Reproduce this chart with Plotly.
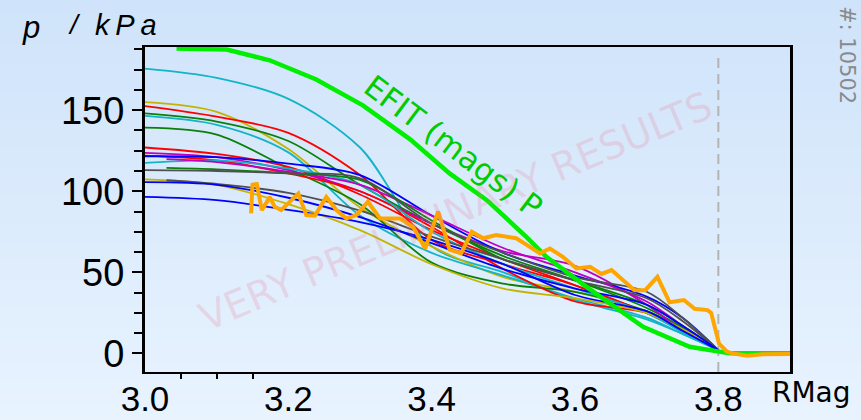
import plotly.graph_objects as go

# ---------------------------------------------------------------- data
# common radial grid (m) for the reconstructed pressure profiles
R_GRID = [3.0, 3.1, 3.2, 3.3, 3.4, 3.5, 3.6, 3.7, 3.75, 3.8]
R_GRID_LATE = [3.03, 3.1, 3.2, 3.3, 3.4, 3.5, 3.6, 3.7, 3.75, 3.8]

# pressure profiles (kPa) for the individual time slices
p_cyan_a = [175.7, 170, 157, 127, 66, 50, 33, 21, 12, 2]
p_yell_a = [155, 149, 126, 90, 66, 47, 38, 26, 15, 2]
p_red_a = [152.5, 146, 136, 110, 70, 55, 42, 25, 14, 2]
p_gree_a = [148, 143, 131, 104, 80, 60, 45, 28, 16, 2]
p_cyan_b = [146.5, 141, 124, 85, 62, 48, 34, 22, 12, 2]
p_gree_b = [139.3, 135, 114, 92, 56, 43, 38, 26, 15, 2]
p_red_b = [127, 123, 115, 98, 76, 58, 42, 25, 14, 2]
p_mage_a = [123.7, 121, 113, 100, 80, 63, 54, 30, 14, 2]
p_red_c = [122, 119, 111, 100, 78, 52, 32, 25, 14, 2]
p_blue_a = [121.6, 121, 117, 110, 85, 62, 48, 35, 22, 2]
p_cyan_c = [117.5, 119, 114, 104, 75, 55, 40, 25, 13, 2]
p_mage_b = [119.8, 118, 112, 104, 85, 65, 50, 32, 17, 2]      # late start
p_gree_c = [114.4, 113.5, 111, 107, 82, 58, 45, 30, 17, 2]    # late start
p_gray_a = [113, 112.5, 111, 108, 80, 62, 47, 38, 22, 2]
p_yell_b = [107.3, 104, 92, 76, 55, 40, 34, 25, 15, 2]
p_gray_b = [106.8, 104.5, 99, 88, 72, 58, 45, 34, 20, 2]      # late start
p_blue_b = [105.6, 104, 96, 84, 68, 52, 40, 30, 17, 2]
p_blue_c = [96.5, 94.5, 88.5, 81, 70, 55, 36, 26, 14, 2]

PROFILES = [
    ("#13b4c6", R_GRID, p_cyan_a),
    ("#c4b400", R_GRID, p_yell_a),
    ("#ff0000", R_GRID, p_red_a),
    ("#0a800a", R_GRID, p_gree_a),
    ("#13b4c6", R_GRID, p_cyan_b),
    ("#0a800a", R_GRID, p_gree_b),
    ("#ff0000", R_GRID, p_red_b),
    ("#c000c0", R_GRID, p_mage_a),
    ("#ff0000", R_GRID, p_red_c),
    ("#0000ff", R_GRID, p_blue_a),
    ("#13b4c6", R_GRID, p_cyan_c),
    ("#c000c0", R_GRID_LATE, p_mage_b),
    ("#0a800a", R_GRID_LATE, p_gree_c),
    ("#505050", R_GRID, p_gray_a),
    ("#c4b400", R_GRID, p_yell_b),
    ("#505050", R_GRID_LATE, p_gray_b),
    ("#0000ff", R_GRID, p_blue_b),
    ("#0000ff", R_GRID, p_blue_c),
]

# EFIT (magnetics only) pressure
efit_r = [3.044, 3.114, 3.174, 3.239, 3.304, 3.37, 3.425, 3.477, 3.532,
          3.56, 3.616, 3.695, 3.76, 3.802, 3.816, 3.9]
efit_p = [188, 187.4, 180.8, 169, 153, 132, 111, 94.5, 71.9,
          59.6, 41, 16.4, 4.1, 1, 0, 0]

# measured kinetic pressure
kin_r = [3.148, 3.150, 3.156, 3.163, 3.174, 3.181, 3.19, 3.214, 3.225, 3.237,
         3.253, 3.267, 3.281, 3.295, 3.311, 3.328, 3.356, 3.374, 3.391, 3.409,
         3.425, 3.441, 3.456, 3.472, 3.49, 3.518, 3.537, 3.551, 3.565, 3.583,
         3.602, 3.621, 3.637, 3.651, 3.683, 3.698, 3.715, 3.732, 3.752, 3.767,
         3.785, 3.79, 3.801, 3.812, 3.82, 3.84, 3.862, 3.9]
kin_p = [86.3, 104, 104.5, 88.3, 96.5, 90.4, 88.4, 98.6, 85.3, 85,
         96.5, 88.4, 83.2, 85.3, 93.5, 83.2, 83.2, 78, 64.7, 87.5,
         64, 61.7, 75, 71, 73, 71, 65.7, 61.7, 64.7, 59.6,
         52.4, 53.4, 49, 51.4, 39, 39, 47.2, 31.5, 32.9, 27.5,
         26.7, 25, 6, 1, 0, -1.5, -0.5, -0.4]

SEPARATRIX_R = 3.8
X_TICKS = [3.0, 3.2, 3.4, 3.6, 3.8]
X_TICK_TEXT = ["3.0", "3.2", "3.4", "3.6", "3.8"]
X_MINOR = [3.05, 3.1, 3.15]
Y_TICKS = [0, 50, 100, 150]
Y_TICK_TEXT = ["0", "50", "100", "150"]
X_RANGE = [3.0, 3.9]
Y_RANGE = [-11.5, 189]

# plot-area geometry in pixels
W, H = 861, 420
ML, MR, MT, MB = 145, 71, 47, 48
PW, PH = W - ML - MR, H - MT - MB


def px_x(px):
    """horizontal pixel -> paper coordinate"""
    return (px - ML) / PW


def px_y(py):
    """vertical pixel (from top) -> paper coordinate"""
    return (H - MB - py) / PH


# ---------------------------------------------------------------- figure
fig = go.Figure()

for color, r, p in PROFILES:
    fig.add_trace(go.Scatter(x=r, y=p, mode="lines",
                             line=dict(color=color, width=1.8, shape="spline",
                                       smoothing=0.9),
                             hoverinfo="skip", showlegend=False))

fig.add_trace(go.Scatter(x=efit_r, y=efit_p, mode="lines",
                         line=dict(color="#00ee00", width=4.5),
                         showlegend=False))
fig.add_trace(go.Scatter(x=kin_r, y=kin_p, mode="lines",
                         line=dict(color="#ffa500", width=4),
                         showlegend=False))

# soft blue vertical gradient behind everything
TOP = (207, 227, 250)
BOT = (232, 243, 254)
N_BANDS = 60
y_lo, y_hi = px_y(H), px_y(0)
shapes = []
for i in range(N_BANDS):
    f = (i + 0.5) / N_BANDS
    c = tuple(round(BOT[k] + (TOP[k] - BOT[k]) * f) for k in range(3))
    y0 = y_lo + (y_hi - y_lo) * i / N_BANDS
    y1 = y_lo + (y_hi - y_lo) * (i + 1) / N_BANDS + 0.003
    shapes.append(dict(type="rect", xref="paper", yref="paper",
                       x0=px_x(-5), x1=px_x(W + 5), y0=y0, y1=y1,
                       fillcolor="rgb(%d,%d,%d)" % c, line=dict(width=0),
                       layer="below"))
# separatrix marker
shapes.append(dict(type="line", xref="x", yref="y",
                   x0=SEPARATRIX_R, x1=SEPARATRIX_R, y0=Y_RANGE[0], y1=183,
                   line=dict(color="#b4b4b4", width=2, dash="10px,6px"),
                   layer="below"))


def label(text, px, py, size, color="black", family="DejaVu Sans",
          angle=0, xanchor="center"):
    return dict(text=text, x=px_x(px), y=px_y(py), xref="paper",
                yref="paper", showarrow=False, textangle=angle,
                xanchor=xanchor, yanchor="middle",
                font=dict(family=family, size=size, color=color))


annotations = [
    label("VERY PRELIMINARY RESULTS", 455, 211, 39,
          color="rgba(235,120,150,0.22)", angle=-23),
    label("EFIT (mags) P", 453, 146, 31, color="#00cc00", angle=37),
    label("RMag", 770, 392, 28, xanchor="left"),
    label("<i>p</i>", 31, 27, 31, family="Liberation Sans"),
    label("<i>/</i>", 74, 25, 28, family="Liberation Sans"),
    label("<i>k\u2009P\u2009a</i>", 126, 25, 29, family="Liberation Sans"),
    label("#: 10502", 847, 55, 21, color="#8a8a8a", angle=90),
]

fig.update_layout(
    width=W, height=H,
    margin=dict(l=ML, r=MR, t=MT, b=MB, autoexpand=False),
    paper_bgcolor="rgb(220,235,252)",
    plot_bgcolor="rgba(0,0,0,0)",
    shapes=shapes,
    annotations=annotations,
    showlegend=False,
    xaxis=dict(range=X_RANGE, tickmode="array", tickvals=X_TICKS,
               ticktext=X_TICK_TEXT, ticks="", showgrid=False, zeroline=False,
               automargin=False,
               showline=True, linecolor="black", linewidth=2, mirror=True,
               tickfont=dict(family="Liberation Sans", size=35, color="black"),
               ticklabelstandoff=-5,
               minor=dict(tickmode="array", tickvals=X_MINOR, ticks="outside",
                          ticklen=5, tickwidth=2, tickcolor="black",
                          showgrid=False)),
    yaxis=dict(range=Y_RANGE, tickmode="array", tickvals=Y_TICKS,
               ticktext=Y_TICK_TEXT, ticks="outside", ticklen=10, tickwidth=2,
               tickcolor="black", showgrid=False, zeroline=False,
               automargin=False,
               showline=True, linecolor="black", linewidth=3, mirror=True,
               tickfont=dict(family="Liberation Sans", size=38, color="black"),
               ticklabelstandoff=0,
               minor=dict(dtick=12.5, tick0=0, ticks="outside", ticklen=8,
                          tickwidth=2, tickcolor="black", showgrid=False)),
)

fig.write_html("out.html")
